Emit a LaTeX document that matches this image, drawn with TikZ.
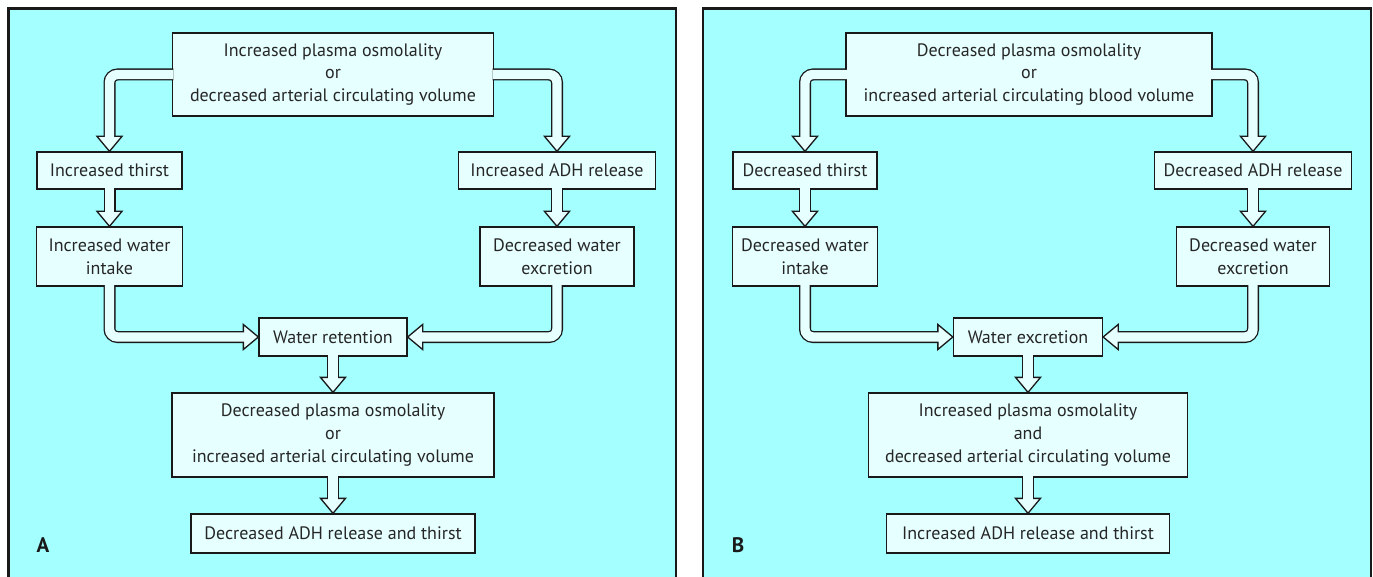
\documentclass[tikz,border=0pt]{standalone}
\usepackage{fontspec}
\setmainfont{PT Sans}
\usetikzlibrary{calc}
\definecolor{bg}{RGB}{164,255,255}
\definecolor{boxfill}{RGB}{230,255,255}
\definecolor{edge}{RGB}{25,25,25}
\tikzset{
  box/.style={draw=edge, line width=1.3pt, fill=boxfill, align=center, inner sep=0pt,
    font=\fontsize{18}{22.8}\selectfont, text=black!85},
  panel/.style={draw=edge, line width=2.5pt, fill=bg},
  plabel/.style={font=\fontsize{21}{22}\selectfont\bfseries, text=black!90, inner sep=0pt},
  shaftout/.style={draw=edge, line width=12pt, rounded corners=8pt},
  shaftin/.style={draw=boxfill, line width=9.4pt, rounded corners=8pt},
  headstyle/.style={draw=edge, fill=boxfill, line width=1.3pt, line join=miter},
}
% #1 start, #2 path operation, #3 base of head (named coordinate), #4 tip (node anchor)
\newcommand\blockarrow[4]{%
  \draw[shaftout] #1 #2 (#3);
  \filldraw[headstyle] ($(#3)!12.5pt!90:(#4)$) -- (#4) -- ($(#3)!12.5pt!-90:(#4)$) -- cycle;
  \draw[shaftin] #1 #2 ($(#3)!2pt!(#4)$);
}
\begin{document}
\begin{tikzpicture}[x=1pt, y=-1pt]
\useasboundingbox (0,0) rectangle (1373,577);
\clip (0,0) rectangle (1373,577);
\fill[white] (0,0) rectangle (1373,577);
% panels
\draw[panel] (8.5,8.5) rectangle (676,620);
\draw[panel] (703,8.5) rectangle (1371,620);
% ---------------- Panel A ----------------
\node[box, minimum width=321pt, minimum height=83pt] (atop) at (333,74.5)
  {Increased plasma osmolality\\or\\decreased arterial circulating volume};
\node[box, minimum width=145pt, minimum height=37pt] (athirst) at (109.5,170.5) {Increased thirst};
\node[box, minimum width=146pt, minimum height=59pt] (aintake) at (109.5,256.5) {Increased water\\intake};
\node[box, minimum width=197pt, minimum height=37pt] (aadh) at (557,170.5) {Increased ADH release};
\node[box, minimum width=154pt, minimum height=59pt] (aexc) at (557,256.5) {Decreased water\\excretion};
\node[box, minimum width=148pt, minimum height=38pt] (aret) at (333,337) {Water retention};
\node[box, minimum width=322pt, minimum height=84pt] (adec) at (333,435)
  {Decreased plasma osmolality\\or\\increased arterial circulating volume};
\node[box, minimum width=284pt, minimum height=39pt] (afin) at (333,533.5) {Decreased ADH release and thirst};
\node[plabel] (alab) at (43,545) {A};
\coordinate (ab1) at ([yshift=15pt]athirst.north);
\coordinate (ab2) at ([yshift=15pt]aadh.north);
\coordinate (ab3) at ([yshift=15pt]aintake.north);
\coordinate (ab4) at ([yshift=15pt]aexc.north);
\coordinate (ab5) at ([xshift=-15pt]aret.west);
\coordinate (ab6) at ([xshift=15pt]aret.east);
\coordinate (ab7) at ([yshift=15pt]adec.north);
\coordinate (ab8) at ([yshift=15pt]afin.north);
\blockarrow{([xshift=1.5pt]atop.west)}{-|}{ab1}{athirst.north}
\blockarrow{([xshift=-1.5pt]atop.east)}{-|}{ab2}{aadh.north}
\blockarrow{([yshift=1.5pt]athirst.south)}{--}{ab3}{aintake.north}
\blockarrow{([yshift=1.5pt]aadh.south)}{--}{ab4}{aexc.north}
\blockarrow{([yshift=1.5pt]aintake.south)}{|-}{ab5}{aret.west}
\blockarrow{([yshift=1.5pt]aexc.south)}{|-}{ab6}{aret.east}
\blockarrow{([yshift=1.5pt]aret.south)}{--}{ab7}{adec.north}
\blockarrow{([yshift=1.5pt]adec.south)}{--}{ab8}{afin.north}
% ---------------- Panel B ----------------
\node[box, minimum width=366pt, minimum height=83pt] (btop) at (1029,74.5)
  {Decreased plasma osmolality\\or\\increased arterial circulating blood volume};
\node[box, minimum width=144pt, minimum height=37pt] (bthirst) at (805,170.5) {Decreased thirst};
\node[box, minimum width=145pt, minimum height=59pt] (bintake) at (805,256.5) {Decreased water\\intake};
\node[box, minimum width=197pt, minimum height=37pt] (badh) at (1253,170.5) {Decreased ADH release};
\node[box, minimum width=153pt, minimum height=59pt] (bexc) at (1253,256.5) {Decreased water\\excretion};
\node[box, minimum width=149pt, minimum height=38pt] (bret) at (1028,337) {Water excretion};
\node[box, minimum width=319pt, minimum height=84pt] (binc) at (1028,435)
  {Increased plasma osmolality\\and\\decreased arterial circulating volume};
\node[box, minimum width=283pt, minimum height=39pt] (bfin) at (1028,533.5) {Increased ADH release and thirst};
\node[plabel] (blab) at (738,545) {B};
\coordinate (bb1) at ([yshift=15pt]bthirst.north);
\coordinate (bb2) at ([yshift=15pt]badh.north);
\coordinate (bb3) at ([yshift=15pt]bintake.north);
\coordinate (bb4) at ([yshift=15pt]bexc.north);
\coordinate (bb5) at ([xshift=-15pt]bret.west);
\coordinate (bb6) at ([xshift=15pt]bret.east);
\coordinate (bb7) at ([yshift=15pt]binc.north);
\coordinate (bb8) at ([yshift=15pt]bfin.north);
\blockarrow{([xshift=1.5pt]btop.west)}{-|}{bb1}{bthirst.north}
\blockarrow{([xshift=-1.5pt]btop.east)}{-|}{bb2}{badh.north}
\blockarrow{([yshift=1.5pt]bthirst.south)}{--}{bb3}{bintake.north}
\blockarrow{([yshift=1.5pt]badh.south)}{--}{bb4}{bexc.north}
\blockarrow{([yshift=1.5pt]bintake.south)}{|-}{bb5}{bret.west}
\blockarrow{([yshift=1.5pt]bexc.south)}{|-}{bb6}{bret.east}
\blockarrow{([yshift=1.5pt]bret.south)}{--}{bb7}{binc.north}
\blockarrow{([yshift=1.5pt]binc.south)}{--}{bb8}{bfin.north}
\end{tikzpicture}
\end{document}
